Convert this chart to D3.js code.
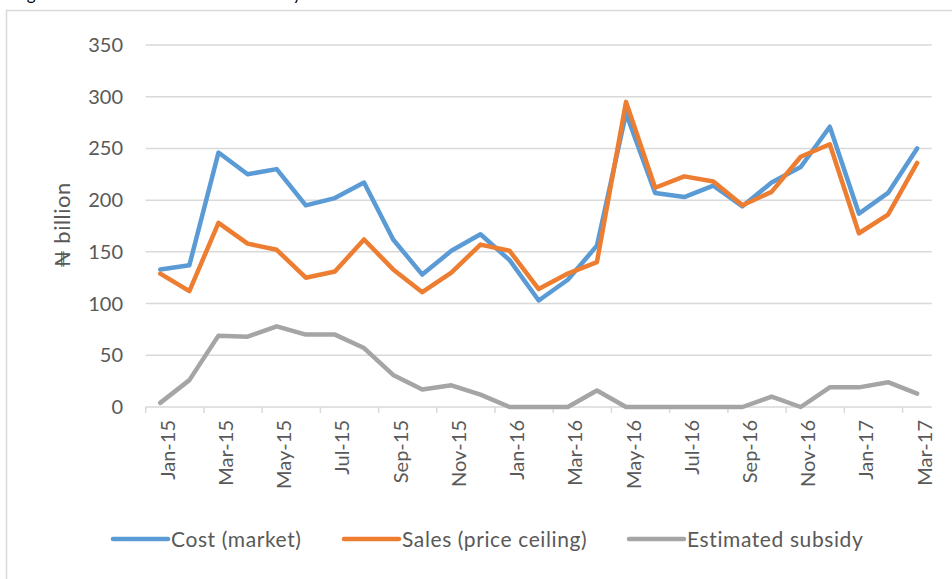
<!DOCTYPE html>
<html lang="en">
  <head>
    <meta charset="UTF-8" />
    <title>Cost, sales and subsidy</title>
    <script src="https://d3js.org/d3.v7.min.js"></script>
    <style>
      body {
        margin: 0;
        padding: 0;
        background: #fff;
      }
      svg {
        display: block;
        font-family: Lato, "Open Sans", sans-serif;
      }
      .grid line {
        stroke: #d9d9d9;
        stroke-width: 1.5;
      }
      .tick-label {
        font-size: 20px;
        fill: #595959;
      }
      .axis-title {
        font-size: 22px;
        letter-spacing: 0.5px;
        fill: #595959;
      }
      .series {
        fill: none;
        stroke-width: 4.5;
        stroke-linejoin: round;
        stroke-linecap: round;
      }
      .legend text {
        font-size: 21px;
        letter-spacing: 0.6px;
        fill: #595959;
      }
    </style>
  </head>
  <body>
    <script>
      // Months along the x axis
      const months = [
        "Jan-15", "Feb-15", "Mar-15", "Apr-15", "May-15", "Jun-15", "Jul-15", "Aug-15", "Sep-15",
        "Oct-15", "Nov-15", "Dec-15", "Jan-16", "Feb-16", "Mar-16", "Apr-16", "May-16", "Jun-16",
        "Jul-16", "Aug-16", "Sep-16", "Oct-16", "Nov-16", "Dec-16", "Jan-17", "Feb-17", "Mar-17"
      ];
      // Values in ₦ billion
      const cost = [133, 137, 246, 225, 230, 195, 202, 217, 162, 128, 151, 167, 142, 103, 123, 156,
                    284, 207, 203, 214, 194, 217, 232, 271, 187, 207, 250];
      const sales = [129, 112, 178, 158, 152, 125, 131, 162, 133, 111, 130, 157, 151, 114, 129, 140,
                     295, 212, 223, 218, 195, 208, 242, 254, 168, 186, 236];
      const subsidy = [4, 26, 69, 68, 78, 70, 70, 57, 31, 17, 21, 12, 0, 0, 0, 16,
                       0, 0, 0, 0, 0, 10, 0, 19, 19, 24, 13];
      const yTicks = [0, 50, 100, 150, 200, 250, 300, 350];

      const seriesNames = ["Cost (market)", "Sales (price ceiling)", "Estimated subsidy"];
      const seriesColors = ["#5b9bd5", "#ed7d31", "#a5a5a5"];
      const seriesValues = [cost, sales, subsidy];

      const width = 952, height = 579;
      const plot = { left: 145.7, right: 931.7, top: 45, bottom: 407 };

      const svg = d3.select("body").append("svg")
                    .attr("width", width)
                    .attr("height", height);

      // caption of the page above, cut off at the top edge (only descenders show)
      svg.append("text")
         .attr("x", 13)
         .attr("y", 0)
         .attr("font-size", 17)
         .attr("fill", "#000")
         .text("Figure 3: Cost versus sales and subsidy");

      // chart border (only left and top edges are in view)
      svg.append("rect")
         .attr("x", 6.5)
         .attr("y", 10.5)
         .attr("width", 1000)
         .attr("height", 1000)
         .attr("fill", "none")
         .attr("stroke", "#d9d9d9")
         .attr("stroke-width", 1.5);

      const x = d3.scaleBand()
                  .domain(months)
                  .range([plot.left, plot.right]);
      const y = d3.scaleLinear()
                  .domain([0, 350])
                  .range([plot.bottom, plot.top]);

      // horizontal gridlines
      const grid = svg.append("g").attr("class", "grid");
      grid.selectAll("line")
          .data(yTicks)
          .join("line")
          .attr("x1", plot.left)
          .attr("x2", plot.right)
          .attr("y1", d => y(d))
          .attr("y2", d => y(d));

      // y tick labels
      svg.append("g")
         .selectAll("text")
         .data(yTicks)
         .join("text")
         .attr("class", "tick-label")
         .attr("x", 123)
         .attr("y", d => y(d))
         .attr("dy", "0.35em")
         .attr("text-anchor", "end")
         .text(d => d);

      // y axis title
      svg.append("text")
         .attr("class", "axis-title")
         .attr("transform", `translate(70,${(plot.top + plot.bottom) / 2 - 1}) rotate(-90)`)
         .attr("text-anchor", "middle")
         .text("₦ billion");

      // x tick marks every other month
      const tickMonths = months.filter((m, i) => i % 2 === 0);
      grid.selectAll("line.xtick")
          .data(tickMonths)
          .join("line")
          .attr("class", "xtick")
          .attr("x1", d => x(d))
          .attr("x2", d => x(d))
          .attr("y1", plot.bottom)
          .attr("y2", plot.bottom + 6);

      // x tick labels, rotated
      svg.append("g")
         .selectAll("text")
         .data(tickMonths)
         .join("text")
         .attr("class", "tick-label")
         .attr("transform", d => `translate(${x(d) + x.bandwidth() / 2},420) rotate(-90)`)
         .attr("dy", 14.5)
         .attr("text-anchor", "end")
         .text(d => d);

      // series lines
      const line = d3.line()
                     .x((d, i) => x(months[i]) + x.bandwidth() / 2)
                     .y(d => y(d));
      svg.append("g")
         .selectAll("path")
         .data(seriesValues)
         .join("path")
         .attr("class", "series")
         .attr("stroke", (d, i) => seriesColors[i])
         .attr("d", line);

      // legend
      const legendX = [113, 344, 629];
      const legend = svg.append("g").attr("class", "legend");
      seriesNames.forEach((name, i) => {
        legend.append("line")
              .attr("x1", legendX[i])
              .attr("x2", legendX[i] + 55)
              .attr("y1", 539)
              .attr("y2", 539)
              .attr("stroke", seriesColors[i])
              .attr("stroke-width", 4.5)
              .attr("stroke-linecap", "round");
        legend.append("text")
              .attr("x", legendX[i] + 58)
              .attr("y", 547)
              .text(name);
      });
    </script>
  </body>
</html>
